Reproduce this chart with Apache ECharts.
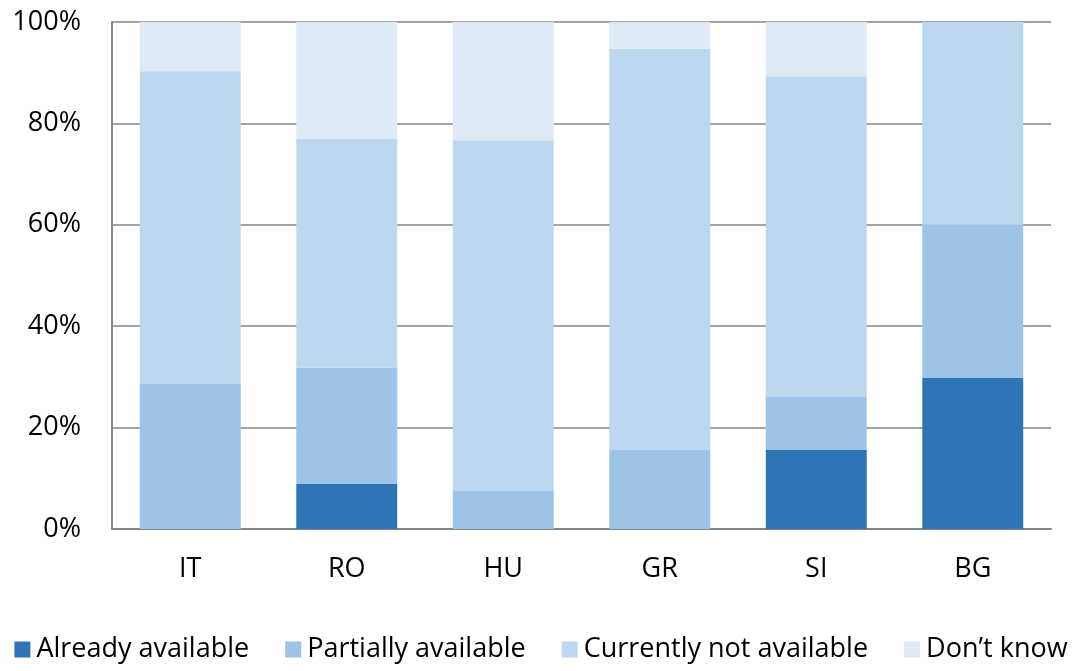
<!DOCTYPE html>
<html><head><meta charset="utf-8">
<script src="https://cdn.jsdelivr.net/npm/echarts@6/dist/echarts.min.js"></script>
<style>html,body{margin:0;padding:0;background:#fff}#c{width:1082px;height:671px}</style>
</head><body><div id="c"></div>
<script>
const categories = ['IT','RO','HU','GR','SI','BG'];
const alreadyAvailable = [0, 8.9, 0, 0, 15.6, 29.8];
const partiallyAvailable = [28.6, 22.9, 7.5, 15.6, 10.6, 30.2];
const currentlyNotAvailable = [61.7, 45.1, 69.2, 79.1, 63.1, 40.0];
const dontKnow = [9.7, 23.1, 23.3, 5.3, 10.7, 0];
const seriesNames = ['Already available','Partially available','Currently not available','Don\u2019t know'];
const colors = ['#2E75B6','#9DC3E6','#BDD7EE','#DEEBF7'];
const yTicks = [0,20,40,60,80,100];

const font = 'Open Sans';
const chart = echarts.init(document.getElementById('c'));
const dataSets = [alreadyAvailable, partiallyAvailable, currentlyNotAvailable, dontKnow];
chart.setOption({
  animation:false,
  color: colors,
  grid:{left:112, right:31, top:22, bottom:142},
  legend:{
    top:631, left:'center', itemWidth:16, itemHeight:16, itemGap:36,
    icon:'rect',
    textStyle:{fontFamily:font, fontSize:27, color:'#000', padding:[0,0,0,1]},
    data: seriesNames
  },
  xAxis:{
    type:'category', data:categories,
    axisLine:{show:true, lineStyle:{color:'#868686', width:2}},
    axisTick:{show:false},
    axisLabel:{fontFamily:font, fontSize:27, color:'#000', margin:27}
  },
  yAxis:{
    type:'value', min:yTicks[0], max:yTicks[yTicks.length-1], interval:20,
    axisLine:{show:true, lineStyle:{color:'#868686', width:2}},
    axisTick:{show:false},
    splitLine:{lineStyle:{color:'#868686', width:1.5}},
    axisLabel:{fontFamily:font, fontSize:27, color:'#000', margin:31, formatter: v => v + '%'}
  },
  series: dataSets.map((d,i)=>({
    name: seriesNames[i], type:'bar', stack:'total', data:d,
    barWidth:'64.5%'
  }))
});
</script></body></html>
